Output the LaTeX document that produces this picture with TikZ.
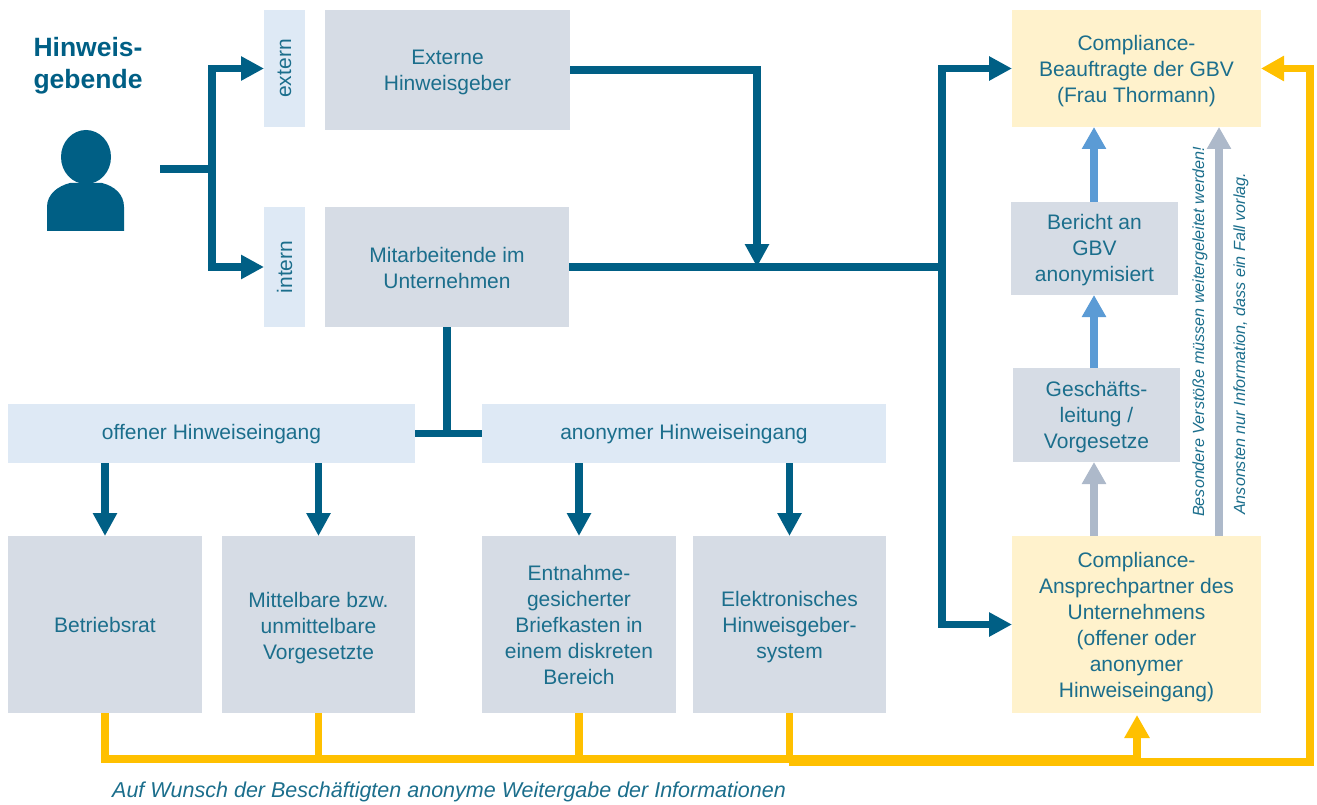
\documentclass[tikz,border=0pt]{standalone}
\usepackage{fontspec}
\setmainfont{Liberation Sans}
\usetikzlibrary{arrows.meta}
\definecolor{deep}{HTML}{005F85}
\definecolor{txt}{HTML}{1B6E8C}
\definecolor{slate}{HTML}{D6DCE5}
\definecolor{pale}{HTML}{DEE9F5}
\definecolor{cream}{HTML}{FFF2CC}
\definecolor{gold}{HTML}{FFC000}
\definecolor{sky}{HTML}{5B9BD5}
\definecolor{steel}{HTML}{ADB9CA}
\newcommand{\rbox}[7]{\node[#6,minimum width={#4pt-#2pt},minimum height={#5pt-#3pt}] (#1) at ({(#2+#4)/2},{(#3+#5)/2}) {#7};}
\newcommand{\lowr}[2]{\raisebox{-#1pt}[\height][\depth]{\begin{tabular}{@{}c@{}}#2\end{tabular}}}
\tikzset{
  base/.style={inner sep=0pt,outer sep=0pt,align=center,text=txt,font=\fontsize{21}{26}\selectfont},
  graybox/.style={base,fill=slate},
  palebox/.style={base,fill=pale},
  creambox/.style={base,fill=cream},
  note/.style={inner sep=0pt,text=txt,font=\fontsize{16.15}{18}\selectfont\itshape},
  flow/.style={line width=7.5pt,color=deep},
  flowtip/.style={flow,-{Triangle[length=23pt,width=23pt]}},
  goldline/.style={line width=7.5pt,color=gold},
  goldtip/.style={goldline,-{Triangle[length=23pt,width=24pt]}},
  skytip/.style={line width=8pt,color=sky,-{Triangle[length=22pt,width=23pt]}},
  steeltip/.style={line width=8pt,color=steel,-{Triangle[length=22pt,width=23pt]}}
}
\begin{document}
\begin{tikzpicture}[x=1pt,y=-1pt]
\useasboundingbox (0,0) rectangle (1317,805);
% boxes
\rbox{extern}{264}{10}{305}{127}{palebox}{\rotatebox{90}{extern}}
\rbox{intern}{264}{207}{305}{327}{palebox}{\rotatebox{90}{intern}}
\rbox{ext}{325}{10}{570}{130}{graybox}{\lowr{2}{Externe\\Hinweisgeber}}
\rbox{mit}{325}{207}{569}{327}{graybox}{\lowr{3}{Mitarbeitende im\\Unternehmen}}
\rbox{offen}{8}{404}{415}{463}{palebox}{\lowr{1}{offener Hinweiseingang}}
\rbox{anon}{482}{404}{886}{463}{palebox}{\lowr{1}{anonymer Hinweiseingang}}
\rbox{bet}{8}{536}{202}{713}{graybox}{Betriebsrat}
\rbox{vor}{222}{536}{415}{713}{graybox}{\lowr{4}{Mittelbare bzw.\\unmittelbare\\Vorgesetzte}}
\rbox{brief}{482}{536}{676}{713}{graybox}{\lowr{3}{Entnahme-\\gesicherter\\Briefkasten in\\einem diskreten\\Bereich}}
\rbox{elek}{693}{536}{886}{713}{graybox}{\lowr{3}{Elektronisches\\Hinweisgeber-\\system}}
\rbox{gbv}{1012}{10}{1261}{127}{creambox}{\lowr{3}{Compliance-\\Beauftragte der GBV\\(Frau Thormann)}}
\rbox{ber}{1011}{202}{1178}{295}{graybox}{\lowr{2}{Bericht an\\GBV\\anonymisiert}}
\rbox{gl}{1013}{368}{1180}{462}{graybox}{\lowr{2}{Geschäfts-\\leitung /\\Vorgesetze}}
\rbox{ans}{1012}{536}{1261}{713}{creambox}{\lowr{3}{Compliance-\\Ansprechpartner des\\Unternehmens\\(offener oder\\anonymer\\Hinweiseingang)}}
% title and person
\node[inner sep=0pt,align=center,text=deep,font=\fontsize{26.5}{32}\selectfont\bfseries] (title) at (88,65.5) {Hinweis-\\gebende};
\fill[deep] (86,157) ellipse [x radius=25,y radius=27];
\fill[deep] (47,231) -- (47,207) .. controls (47,194) and (58,186) .. (70,183) -- (102,183) .. controls (114,186) and (124,194) .. (124,207) -- (124,231) -- cycle;
% helper points
\coordinate (person) at (160,169);
\coordinate (forkL) at (212,169);
\coordinate (merge) at (757,267);
\coordinate (forkR) at (942,267);
\coordinate (mitdrop) at (447,432);
\coordinate (grayx) at (1219,536);
\coordinate (upx) at (1094,536);
\coordinate (goldL) at (105,759);
\coordinate (goldM) at (789,762);
\coordinate (goldA) at (1137,759);
\coordinate (goldR) at (1310,762);
\coordinate (goldTip) at (1137,715);
% dark connectors
\draw[flow] (person) -- (forkL);
\draw[flowtip] (forkL) |- (extern.west);
\draw[flowtip] (forkL) |- (intern.west);
\draw[flow] (ext.east) -| (merge |- mit.north);
\draw[flowtip] (merge |- ext.east) -- (merge);
\draw[flow] (mit.east) -- (forkR);
\draw[flowtip] (forkR) |- (gbv.west);
\draw[flowtip] (forkR) |- (ans.west);
\draw[flow] (mit.south) -- (mitdrop);
\draw[flow] (offen.east) -- (anon.west);
\draw[flowtip] (bet.north |- offen.south) -- (bet.north);
\draw[flowtip] (vor.north |- offen.south) -- (vor.north);
\draw[flowtip] (brief.north |- anon.south) -- (brief.north);
\draw[flowtip] (elek.north |- anon.south) -- (elek.north);
% upward arrows
\draw[steeltip] (upx) -- (upx |- gl.south);
\draw[skytip] (upx |- gl.north) -- (upx |- ber.south);
\draw[skytip] (upx |- ber.north) -- (upx |- gbv.south);
\draw[steeltip] (grayx) -- (grayx |- gbv.south);
% gold connectors
\draw[goldline] (bet.south) -- (goldL) -- (goldA);
\draw[goldline] (vor.south) -- (vor.south |- goldL);
\draw[goldline] (brief.south) -- (brief.south |- goldL);
\draw[goldline] (elek.south) -- (elek.south |- goldM);
\draw[goldtip] (goldA) -- (goldTip);
\draw[goldtip] (goldM) -- (goldR) |- (gbv.east);
% notes
\node[note,rotate=90,anchor=west] (n1) at (1200,517) {Besondere Verstöße müssen weitergeleitet werden!};
\node[note,rotate=90,anchor=west] (n2) at (1241,515) {Ansonsten nur Information, dass ein Fall vorlag.};
\node[note,anchor=west,font=\fontsize{21.5}{24}\selectfont\itshape] (n3) at (112,791.5) {Auf Wunsch der Beschäftigten anonyme Weitergabe der Informationen};
\end{tikzpicture}
\end{document}
